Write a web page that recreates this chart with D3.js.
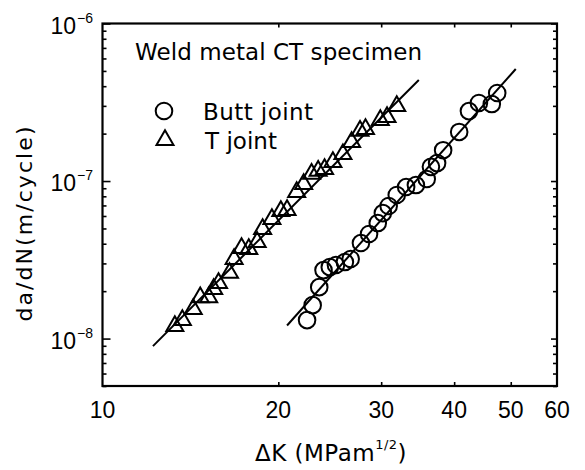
<!DOCTYPE html>
<html>
<head>
<meta charset="utf-8">
<script src="https://cdn.jsdelivr.net/npm/d3@7"></script>
<style>
  html, body { margin: 0; padding: 0; background: #fff; }
  text { font-family: "Liberation Sans", Arial, sans-serif; fill: #000; }
  text.lbl { font-family: "DejaVu Sans", "Liberation Sans", sans-serif; }
</style>
</head>
<body>
<svg id="chart" width="585" height="470"></svg>
<script>
// ---- data ----
const xTickLabels = [10, 20, 30, 40, 50, 60];
const xInnerTicks = [20, 30, 40, 50];
const yTickExponents = [-6, -7, -8];

const seriesNames = ["Butt joint", "T joint"];

const buttDK = [22.4, 22.9, 23.5, 23.9, 24.5, 25.1, 26.0, 26.6, 27.7, 28.6, 29.6, 30.2, 30.9,
  31.9, 33.1, 34.4, 35.9, 36.5, 37.4, 38.3, 40.8, 42.4, 44.1, 46.4, 47.4];
const buttRate = [1.31e-8, 1.63e-8, 2.12e-8, 2.72e-8, 2.84e-8, 2.93e-8, 3.06e-8, 3.20e-8, 4.04e-8,
  4.61e-8, 5.41e-8, 6.26e-8, 6.94e-8, 8.15e-8, 9.16e-8, 9.43e-8, 1.03e-7, 1.23e-7, 1.30e-7,
  1.57e-7, 2.05e-7, 2.78e-7, 3.13e-7, 3.08e-7, 3.62e-7];

const tDK = [13.3, 13.7, 14.3, 14.7, 15.2, 15.5, 15.8, 16.5, 16.8, 17.3, 17.8, 18.4, 18.8, 19.5,
  20.2, 20.7, 21.5, 22.1, 22.8, 23.4, 24.0, 24.8, 25.8, 26.7, 27.6, 28.2, 29.9, 30.7, 31.9];
const tRate = [1.20e-8, 1.31e-8, 1.54e-8, 1.83e-8, 1.83e-8, 2.06e-8, 2.25e-8, 2.61e-8, 3.20e-8,
  3.75e-8, 3.70e-8, 4.10e-8, 4.96e-8, 5.74e-8, 6.45e-8, 6.54e-8, 8.51e-8, 9.57e-8, 1.11e-7,
  1.16e-7, 1.19e-7, 1.32e-7, 1.48e-7, 1.77e-7, 2.08e-7, 2.14e-7, 2.44e-7, 2.55e-7, 2.99e-7];

const buttFitDK = [20.7, 51.0];
const buttFitRate = [1.21e-8, 5.14e-7];
const tFitDK = [12.2, 34.8];
const tFitRate = [8.96e-9, 4.38e-7];

// ---- layout ----
const W = 585, H = 470;
const L = 102.5, R = 557, T = 23.5, B = 386;

const svg = d3.select("#chart");
svg.append("rect").attr("width", W).attr("height", H).attr("fill", "#fff");

const x = d3.scaleLog().domain([10, 60]).range([L, R]);
const y = d3.scaleLog().domain([5e-9, 1e-6]).range([B, T]);

// y ticks
const yMajor = yTickExponents.map(e => Math.pow(10, e));
const yMinor = [];
[-9, -8, -7].forEach(e => {
  for (let k = 2; k <= 9; k++) {
    const v = k * Math.pow(10, e);
    if (v >= 5e-9 && v <= 1e-6) yMinor.push(v);
  }
});

function styleAxis(g) {
  g.select(".domain").remove();
  g.selectAll(".tick line").attr("stroke", "#000").attr("stroke-width", 1.6);
}

svg.append("g").attr("transform", `translate(${L},0)`)
  .call(d3.axisLeft(y).tickValues(yMajor).tickSize(-8).tickFormat("")).call(styleAxis);
svg.append("g").attr("transform", `translate(${L},0)`)
  .call(d3.axisLeft(y).tickValues(yMinor).tickSize(-4).tickFormat("")).call(styleAxis);
svg.append("g").attr("transform", `translate(${R},0)`)
  .call(d3.axisRight(y).tickValues(yMajor).tickSize(-6).tickFormat("")).call(styleAxis);
svg.append("g").attr("transform", `translate(${R},0)`)
  .call(d3.axisRight(y).tickValues(yMinor).tickSize(-4).tickFormat("")).call(styleAxis);

svg.append("g").attr("transform", `translate(0,${B})`)
  .call(d3.axisBottom(x).tickValues(xInnerTicks).tickSize(-4).tickFormat("")).call(styleAxis);
svg.append("g").attr("transform", `translate(0,${T})`)
  .call(d3.axisTop(x).tickValues(xInnerTicks).tickSize(-4).tickFormat("")).call(styleAxis);

// frame
svg.append("rect").attr("x", L).attr("y", T).attr("width", R - L).attr("height", B - T)
  .attr("fill", "none").attr("stroke", "#000").attr("stroke-width", 2.2);

// x tick labels
svg.append("g").selectAll("text").data(xTickLabels).join("text")
  .attr("x", d => x(d)).attr("y", 418)
  .attr("text-anchor", "middle").attr("font-size", 23)
  .text(d => d);

// y tick labels 10^e
const yl = svg.append("g").selectAll("g").data(yTickExponents).join("g");
yl.append("text").attr("x", 76).attr("y", d => y(Math.pow(10, d)) + 10)
  .attr("text-anchor", "end").attr("font-size", 23).text("10");
yl.append("text").attr("x", 77).attr("y", d => y(Math.pow(10, d)) - 1)
  .attr("font-size", 14).text(d => "\u2212" + Math.abs(d));

// axis titles
const xt = svg.append("text").attr("class", "lbl").attr("x", 331).attr("y", 461)
  .attr("text-anchor", "middle").attr("font-size", 23).attr("letter-spacing", 0.5);
xt.append("tspan").text("\u0394K (MPam");
xt.append("tspan").attr("font-size", 13).attr("dy", -12).text("1/2");
xt.append("tspan").attr("dy", 12).text(")");

svg.append("text").attr("class", "lbl")
  .attr("transform", `translate(32,224) rotate(-90)`)
  .attr("text-anchor", "middle").attr("font-size", 22)
  .attr("textLength", 195).attr("lengthAdjust", "spacing")
  .text("da/dN(m/cycle)");

// annotation
svg.append("text").attr("class", "lbl").attr("x", 135).attr("y", 60).attr("font-size", 23)
  .attr("textLength", 287).attr("lengthAdjust", "spacing")
  .text("Weld metal CT specimen");

// fit lines
const line = d3.line().x(d => x(d[0])).y(d => y(d[1]));
svg.append("path").datum(tFitDK.map((d, i) => [d, tFitRate[i]]))
  .attr("d", line).attr("stroke", "#000").attr("stroke-width", 2).attr("fill", "none");
svg.append("path").datum(buttFitDK.map((d, i) => [d, buttFitRate[i]]))
  .attr("d", line).attr("stroke", "#000").attr("stroke-width", 2).attr("fill", "none");

// markers
const tri = d3.symbol().type(d3.symbolTriangle).size(125);
svg.append("g").selectAll("path").data(tDK.map((d, i) => [d, tRate[i]])).join("path")
  .attr("d", tri)
  .attr("transform", d => `translate(${x(d[0])},${y(d[1])})`)
  .attr("fill", "none").attr("stroke", "#000").attr("stroke-width", 2);

svg.append("g").selectAll("circle").data(buttDK.map((d, i) => [d, buttRate[i]])).join("circle")
  .attr("cx", d => x(d[0])).attr("cy", d => y(d[1])).attr("r", 8.3)
  .attr("fill", "none").attr("stroke", "#000").attr("stroke-width", 2);

// legend
svg.append("circle").attr("cx", 164).attr("cy", 111).attr("r", 8.3)
  .attr("fill", "none").attr("stroke", "#000").attr("stroke-width", 2);
svg.append("path").attr("d", tri).attr("transform", "translate(165,140)")
  .attr("fill", "none").attr("stroke", "#000").attr("stroke-width", 2);
svg.append("text").attr("class", "lbl").attr("x", 203).attr("y", 120).attr("font-size", 23)
  .attr("textLength", 110).attr("lengthAdjust", "spacing").text(seriesNames[0]);
svg.append("text").attr("class", "lbl").attr("x", 205).attr("y", 149).attr("font-size", 23)
  .attr("textLength", 72).attr("lengthAdjust", "spacing").text(seriesNames[1]);
</script>
</body>
</html>
